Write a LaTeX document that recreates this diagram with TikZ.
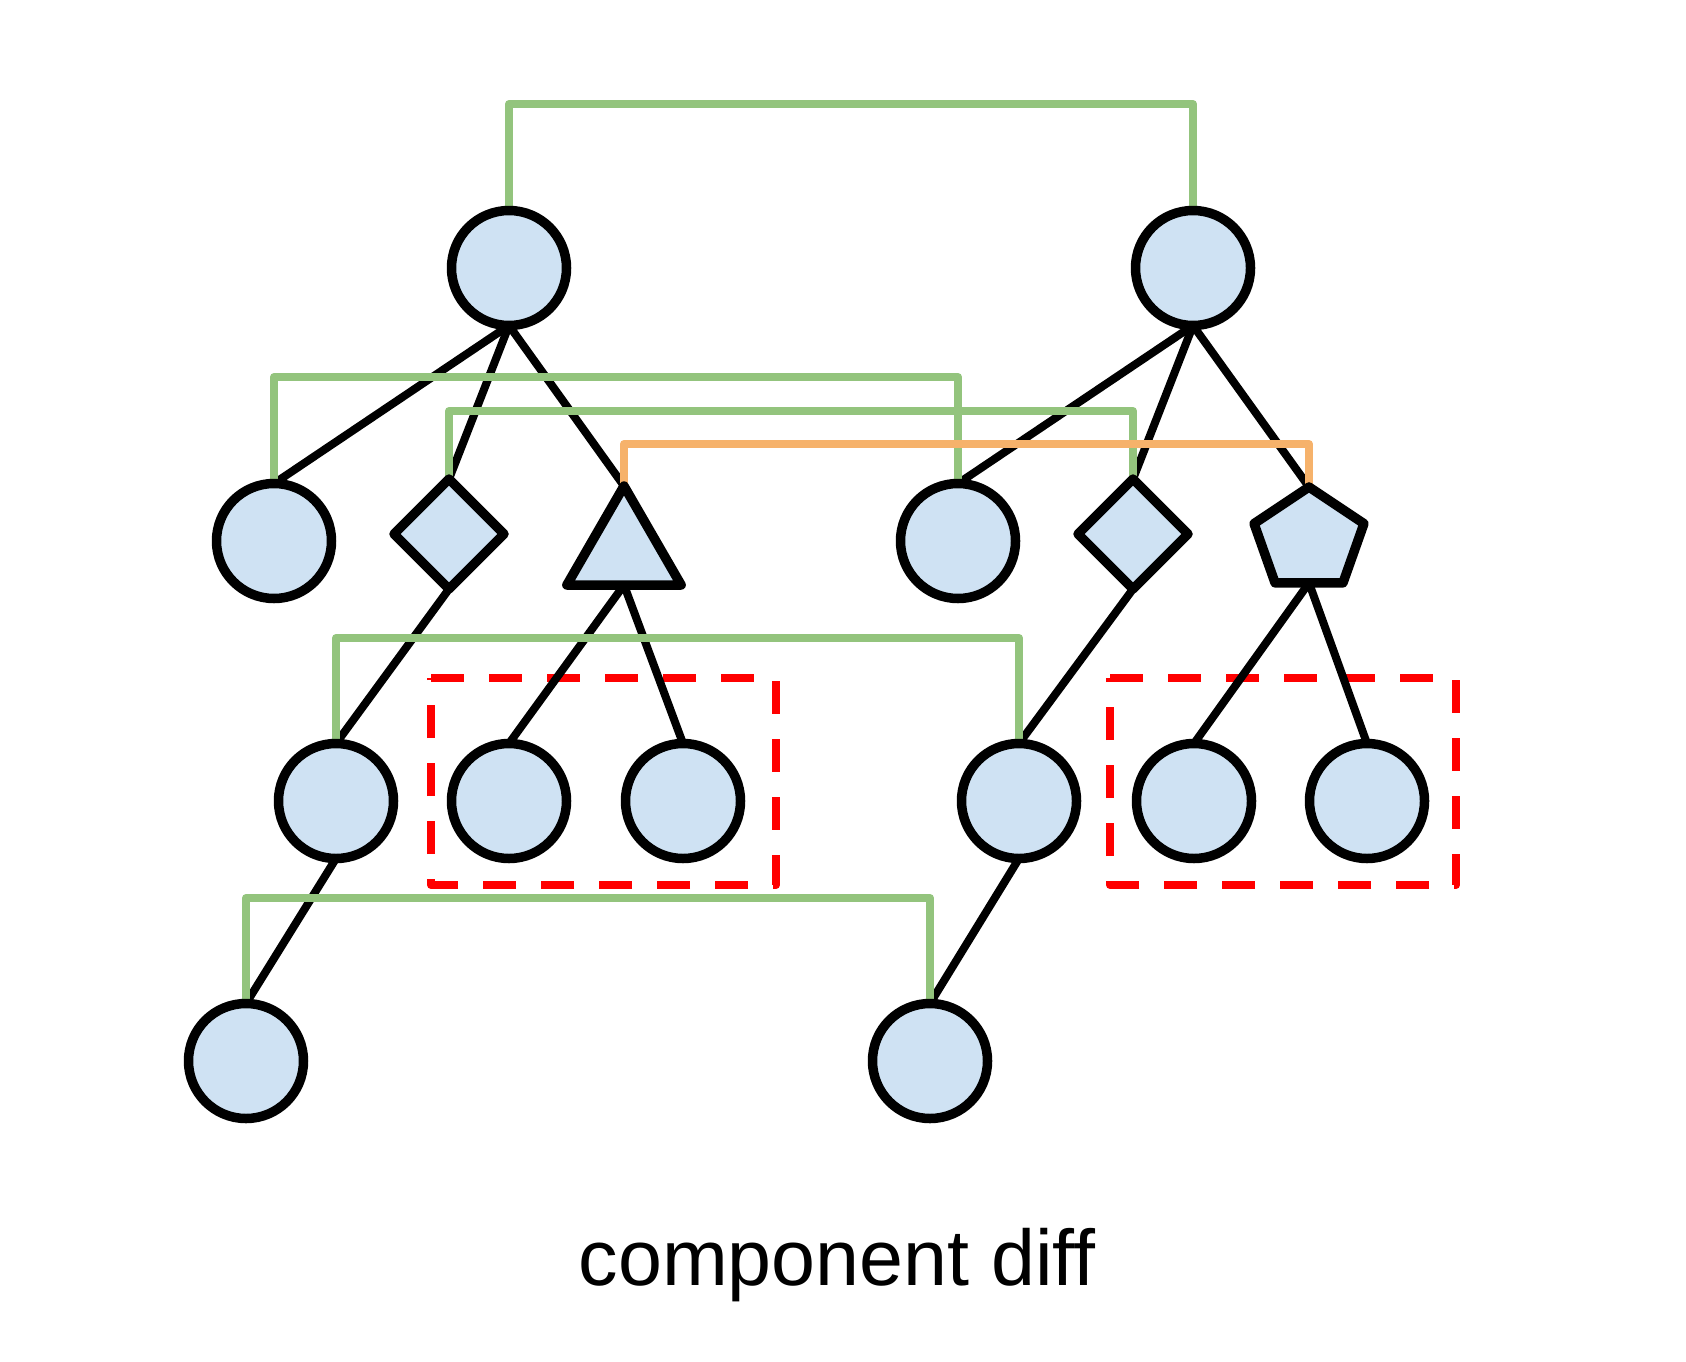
\documentclass[tikz,border=0pt]{standalone}
\usepackage{fontspec}
\setmainfont{Liberation Sans}
\usetikzlibrary{shapes.geometric}
\definecolor{nodefill}{HTML}{CFE2F3}
\definecolor{linkgreen}{HTML}{93C47D}
\definecolor{linkorange}{HTML}{F6B26B}
\definecolor{boxred}{HTML}{FF0000}
\pgfdeclarelayer{bg}
\pgfsetlayers{bg,main}
\begin{document}
\begin{tikzpicture}[x=1pt,y=-1pt,
  shp/.style={draw=black, line width=9.5pt, fill=nodefill, inner sep=0pt, outer sep=0pt, line join=round},
  circ/.style={shp, circle, minimum size=115pt},
  dia/.style={shp, diamond, minimum width=110pt, minimum height=110pt},
  tri/.style={shp, regular polygon, regular polygon sides=3, minimum size=132pt},
  pent/.style={shp, regular polygon, regular polygon sides=5, minimum size=106pt, xscale=1.09},
  treeline/.style={draw=black, line width=8pt},
  pairlink/.style={draw=linkgreen, line width=8pt, line join=round},
  pairlinkalt/.style={pairlink, draw=linkorange},
  diffbox/.style={draw=boxred, line width=8pt, dash pattern=on 33pt off 25pt, line join=round}]
\useasboundingbox (0,0) rectangle (1686,1362);
% nodes
\node[circ] (rl) at (509,268) {};
\node[circ] (rr) at (1193,268) {};
\node[circ] (a1) at (274,541) {};
\node[dia]  (a2) at (449,534) {};
\node[tri]  (a3) at (624,552) {};
\node[circ] (b1) at (958,541) {};
\node[dia]  (b2) at (1133,534) {};
\node[pent] (b3) at (1309,540) {};
\node[circ] (c1) at (336,801) {};
\node[circ] (c2) at (509,801) {};
\node[circ] (c3) at (683,801) {};
\node[circ] (d1) at (1019,801) {};
\node[circ] (d2) at (1194,801) {};
\node[circ] (d3) at (1367,801) {};
\node[circ] (e1) at (246,1061) {};
\node[circ] (e2) at (930,1061) {};
\node[font=\fontsize{79}{95}\selectfont, anchor=base] (caption) at (837,1285) {component diff};
% helper levels
\coordinate (h0) at (0,104);
\coordinate (h1) at (0,377);
\coordinate (h2) at (0,411);
\coordinate (h3) at (0,444);
\coordinate (h4) at (0,638);
\coordinate (h5) at (0,898);
\coordinate (lb1) at (431,678);
\coordinate (lb2) at (776,885);
\coordinate (rb1) at (1110,678);
\coordinate (rb2) at (1456,885);
\begin{pgfonlayer}{bg}
% diff boxes
\draw[diffbox] (lb1) -- (lb1 -| lb2) -- (lb2) -- (lb2 -| lb1) -- cycle;
\draw[diffbox] (rb1) -- (rb1 -| rb2) -- (rb2) -- (rb2 -| rb1) -- cycle;
% tree edges
\draw[treeline] (rl.south) -- (a1.north);
\draw[treeline] (rl.south) -- (a2.north);
\draw[treeline] (rl.south) -- (a3.corner 1);
\draw[treeline] (rr.south) -- (b1.north);
\draw[treeline] (rr.south) -- (b2.north);
\draw[treeline] (rr.south) -- (b3.corner 1);
\draw[treeline] (a2.south) -- (c1.north);
\draw[treeline] (a3.south) -- (c2.north);
\draw[treeline] (a3.south) -- (c3.north);
\draw[treeline] (b2.south) -- (d1.north);
\draw[treeline] (b3.south) -- (d2.north);
\draw[treeline] (b3.south) -- (d3.north);
\draw[treeline] (c1.south) -- (e1.north);
\draw[treeline] (d1.south) -- (e2.north);
% matching links
\draw[pairlink] (rl.north) -- (rl.north |- h0) -- (rr.north |- h0) -- (rr.north);
\draw[pairlink] (a1.north) -- (a1.north |- h1) -- (b1.north |- h1) -- (b1.north);
\draw[pairlink] (a2.north) -- (a2.north |- h2) -- (b2.north |- h2) -- (b2.north);
\draw[pairlinkalt] (a3.corner 1) -- (a3.corner 1 |- h3) -- (b3.corner 1 |- h3) -- (b3.corner 1);
\draw[pairlink] (c1.north) -- (c1.north |- h4) -- (d1.north |- h4) -- (d1.north);
\draw[pairlink] (e1.north) -- (e1.north |- h5) -- (e2.north |- h5) -- (e2.north);
\end{pgfonlayer}
\end{tikzpicture}
\end{document}
